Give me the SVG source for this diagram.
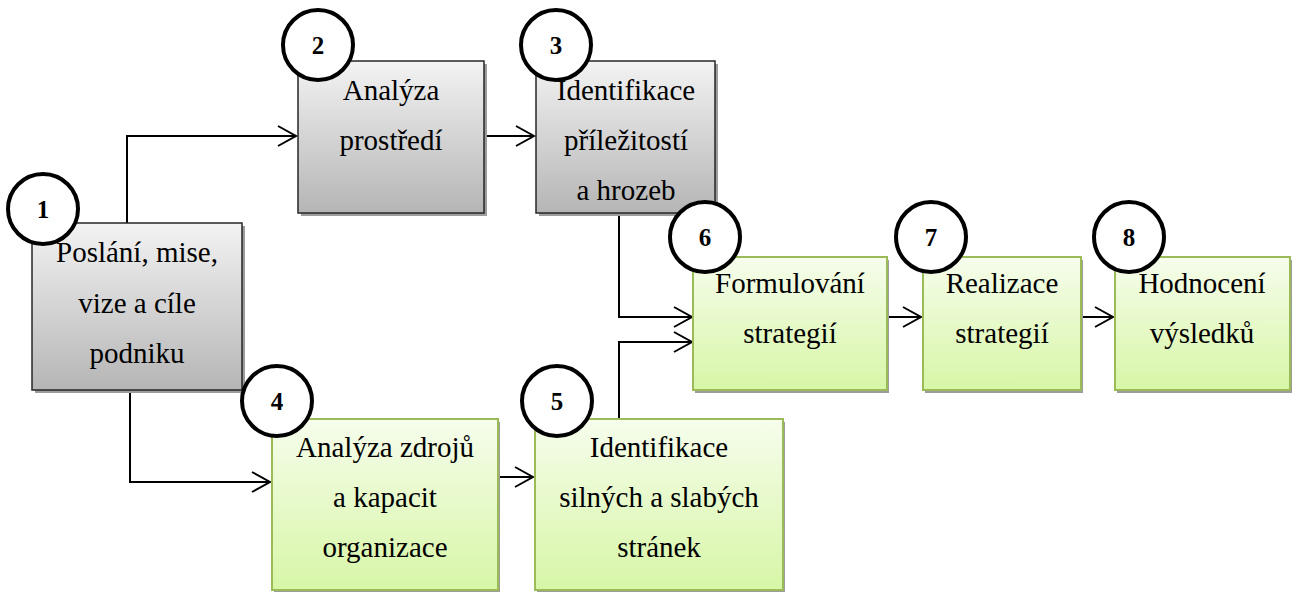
<svg xmlns="http://www.w3.org/2000/svg" width="1293" height="592" viewBox="0 0 1293 592">
<style>
.gray{fill:url(#gGray);stroke:#262626;stroke-width:1.5}
.green{fill:url(#gGreen);stroke:#9bbb59;stroke-width:2}
.shadow{fill:#9c9c9c}
.t{font-family:'Liberation Serif','DejaVu Serif',serif;font-size:29px;fill:#000;text-anchor:middle}
.num{font-family:'Liberation Serif','DejaVu Serif',serif;font-size:25px;font-weight:bold;fill:#000;text-anchor:middle}
.circ{fill:#fff;stroke:#000;stroke-width:4}
.conn{fill:none;stroke:#000;stroke-width:2;marker-end:url(#arr)}
</style>
<defs>
<linearGradient id="gGray" x1="0" y1="0" x2="0" y2="1">
<stop offset="0" stop-color="#f3f3f3"/>
<stop offset="1" stop-color="#b5b5b5"/>
</linearGradient>
<linearGradient id="gGreen" x1="0" y1="0" x2="0" y2="1">
<stop offset="0" stop-color="#f6fdec"/>
<stop offset="1" stop-color="#d7f6a6"/>
</linearGradient>
<marker id="arr" markerUnits="userSpaceOnUse" markerWidth="22" markerHeight="24" refX="19" refY="11" orient="auto">
<path d="M1,1 L19,11 L1,21" fill="none" stroke="#000" stroke-width="2"/>
</marker>
</defs>
<rect width="1293" height="592" fill="#fff"/>
<g id="connectors">
<path class="conn" d="M127,223 V136 H296"/>
<path class="conn" d="M484,136 H534"/>
<path class="conn" d="M619,213 V317 H692"/>
<path class="conn" d="M130,390 V482 H270"/>
<path class="conn" d="M498,477 H533"/>
<path class="conn" d="M619,419 V342 H692"/>
<path class="conn" d="M887,317 H921"/>
<path class="conn" d="M1081,317 H1113"/>
</g>
<g font-family="Liberation Serif, DejaVu Serif, serif">
<g id="node1">
<rect class="shadow" x="35" y="226" width="210" height="167"/>
<rect class="gray" x="32" y="223" width="210" height="167"/>
<text class="t" x="137" y="262">Poslání, mise,</text>
<text class="t" x="137" y="313">vize a cíle</text>
<text class="t" x="137" y="363">podniku</text>
<circle class="circ" cx="43" cy="209" r="35"/>
<text class="num" x="43" y="218">1</text>
</g>
<g id="node2">
<rect class="shadow" x="301" y="64" width="186" height="152"/>
<rect class="gray" x="298" y="61" width="186" height="152"/>
<text class="t" x="391" y="100">Analýza</text>
<text class="t" x="391" y="150">prostředí</text>
<circle class="circ" cx="318" cy="45" r="35"/>
<text class="num" x="318" y="54">2</text>
</g>
<g id="node3">
<rect class="shadow" x="539" y="64" width="179" height="152"/>
<rect class="gray" x="536" y="61" width="179" height="152"/>
<text class="t" x="626" y="100">Identifikace</text>
<text class="t" x="626" y="150">příležitostí</text>
<text class="t" x="626" y="200">a hrozeb</text>
<circle class="circ" cx="556" cy="45" r="35"/>
<text class="num" x="556" y="54">3</text>
</g>
<g id="node4">
<rect class="shadow" x="274" y="422" width="226" height="170"/>
<rect class="green" x="272" y="419" width="226" height="171"/>
<text class="t" x="385" y="457">Analýza zdrojů</text>
<text class="t" x="385" y="507">a kapacit</text>
<text class="t" x="385" y="557">organizace</text>
<circle class="circ" cx="277" cy="401" r="35"/>
<text class="num" x="277" y="410">4</text>
</g>
<g id="node5">
<rect class="shadow" x="537" y="422" width="248" height="170"/>
<rect class="green" x="535" y="419" width="248" height="171"/>
<text class="t" x="659" y="457">Identifikace</text>
<text class="t" x="659" y="507">silných a slabých</text>
<text class="t" x="659" y="557">stránek</text>
<circle class="circ" cx="557" cy="401" r="35"/>
<text class="num" x="557" y="410">5</text>
</g>
<g id="node6">
<rect class="shadow" x="695" y="260" width="194" height="133"/>
<rect class="green" x="693" y="257" width="194" height="133"/>
<text class="t" x="790" y="293">Formulování</text>
<text class="t" x="790" y="343">strategií</text>
<circle class="circ" cx="705" cy="237" r="35"/>
<text class="num" x="705" y="246">6</text>
</g>
<g id="node7">
<rect class="shadow" x="925" y="260" width="158" height="133"/>
<rect class="green" x="923" y="257" width="158" height="133"/>
<text class="t" x="1002" y="293">Realizace</text>
<text class="t" x="1002" y="343">strategií</text>
<circle class="circ" cx="931" cy="237" r="35"/>
<text class="num" x="931" y="246">7</text>
</g>
<g id="node8">
<rect class="shadow" x="1117" y="260" width="175" height="133"/>
<rect class="green" x="1115" y="257" width="175" height="133"/>
<text class="t" x="1202" y="293">Hodnocení</text>
<text class="t" x="1202" y="343">výsledků</text>
<circle class="circ" cx="1129" cy="237" r="35"/>
<text class="num" x="1129" y="246">8</text>
</g>
</g>
</svg>
